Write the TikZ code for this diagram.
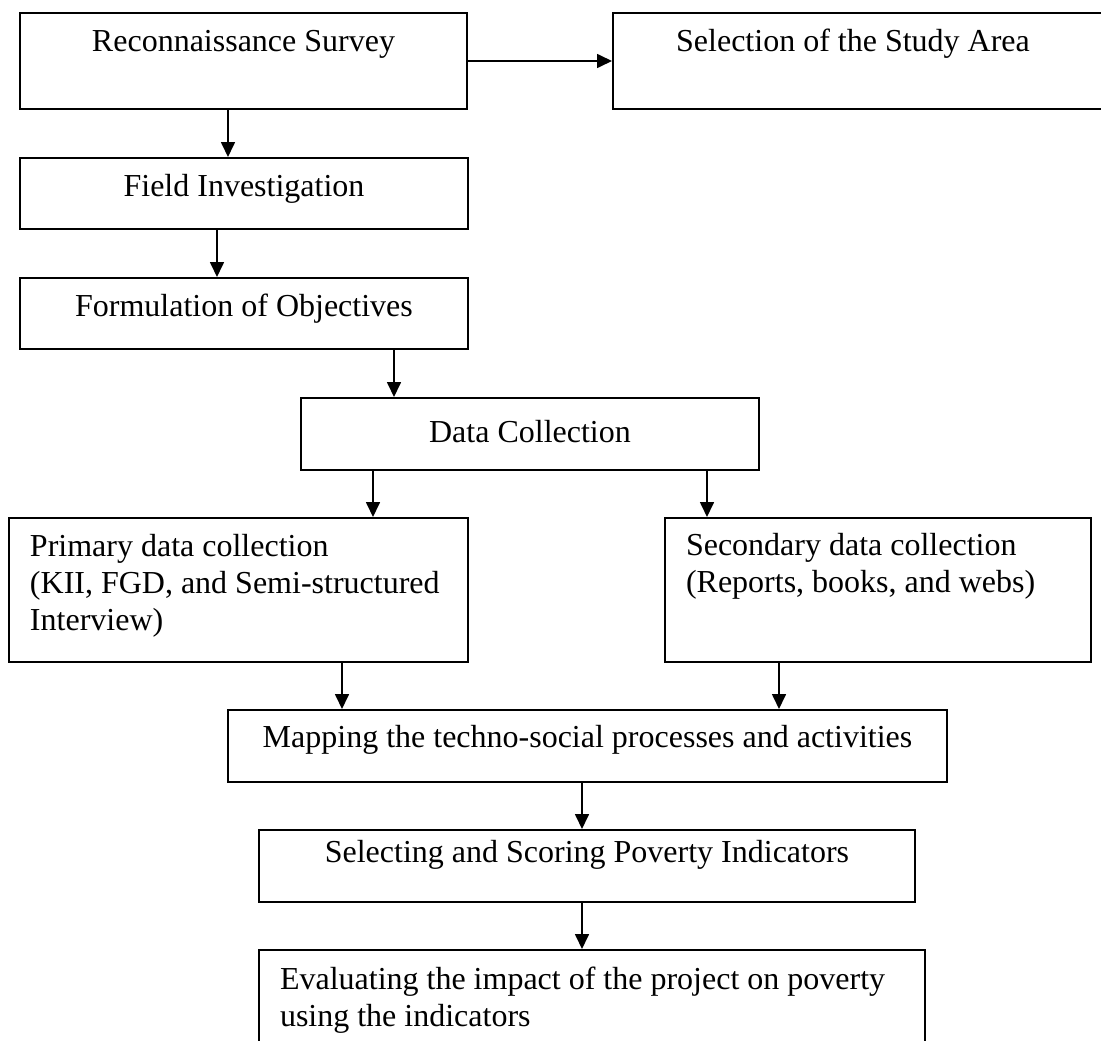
\documentclass[tikz,border=0pt]{standalone}
\usepackage{fontspec}
\setmainfont{Liberation Serif}
\usetikzlibrary{arrows.meta}
\newcommand\boxtext[5]{\parbox[c][#2pt][t]{#1pt}{#4\vspace*{#3pt}\strut #5\par}}
\tikzset{
  box/.style={draw, line width=2pt, anchor=north west, inner sep=0pt,
              font=\fontsize{32}{37}\selectfont},
  arr/.style={line width=1.7pt, -{Triangle[length=15pt,width=14pt]}}
}
\begin{document}
\begin{tikzpicture}[x=1pt, y=-1pt]
\useasboundingbox (0,0) rectangle (1101,1041);
\clip (0,0) rectangle (1101,1041);
\node[box] (rec) at (19,12) {\boxtext{447}{96}{13}{\centering}{Reconnaissance Survey}};
\node[box] (sel) at (612,12) {\boxtext{503}{96}{13}{\centering}{\hspace*{-23pt}Selection of the Study Area}};
\node[box] (fld) at (19,157) {\boxtext{448}{71}{13}{\centering}{Field Investigation}};
\node[box] (frm) at (19,277) {\boxtext{448}{71}{13}{\centering}{Formulation of Objectives}};
\node[box] (dat) at (300,397) {\boxtext{458}{72}{19}{\centering}{Data Collection}};
\node[box] (pri) at (8,517) {\boxtext{459}{144}{13}{\raggedright\leftskip=21pt}{Primary data collection\\(KII, FGD, and Semi-structured\\Interview)}};
\node[box] (sec) at (664,517) {\boxtext{426}{144}{12}{\raggedright\leftskip=21pt}{Secondary data collection\\(Reports, books, and webs)}};
\node[box] (map) at (227,709) {\boxtext{719}{72}{12}{\centering}{Mapping the techno-social processes and activities}};
\node[box] (sco) at (258,829) {\boxtext{656}{72}{7}{\centering}{Selecting and Scoring Poverty Indicators}};
\node[box] (eva) at (258,949) {\boxtext{666}{131}{14}{\raggedright\leftskip=21pt}{Evaluating the impact of the project on poverty\\using the indicators}};
\draw[arr] (rec.east) -- (sel.west);
\draw[arr] ([xshift=209pt]rec.south west) -- ([xshift=209pt]fld.north west);
\draw[arr] ([xshift=198pt]fld.south west) -- ([xshift=198pt]frm.north west);
\draw[arr] ([xshift=375pt]frm.south west) -- ([xshift=94pt]dat.north west);
\draw[arr] ([xshift=73pt]dat.south west) -- ([xshift=365pt]pri.north west);
\draw[arr] ([xshift=407pt]dat.south west) -- ([xshift=43pt]sec.north west);
\draw[arr] ([xshift=334pt]pri.south west) -- ([xshift=115pt]map.north west);
\draw[arr] ([xshift=115pt]sec.south west) -- ([xshift=552pt]map.north west);
\draw[arr] ([xshift=355pt]map.south west) -- ([xshift=324pt]sco.north west);
\draw[arr] ([xshift=324pt]sco.south west) -- ([xshift=324pt]eva.north west);
\end{tikzpicture}
\end{document}
